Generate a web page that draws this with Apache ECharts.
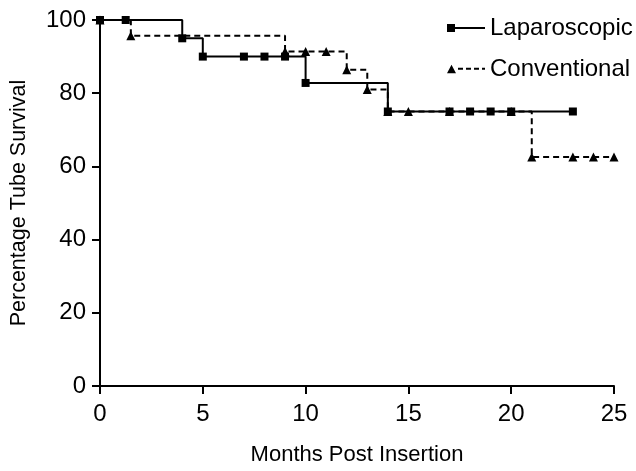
<!DOCTYPE html>
<html>
<head>
<meta charset="utf-8">
<script src="https://cdn.jsdelivr.net/npm/echarts@6/dist/echarts.min.js"></script>
<style>html,body{margin:0;padding:0;background:#fff;}#c{width:636px;height:471px;}</style>
</head>
<body>
<div id="c"></div>
<script>
// Laparoscopic: [month, percentage]
const lapMonths = [0, 1.25, 4, 5, 7, 8, 9, 10, 14, 17, 18, 19, 20, 23];
const lapValues = [100, 100, 95, 90, 90, 90, 90, 82.8, 75, 75, 75, 75, 75, 75];
// Conventional
const convMonths = [0, 1.5, 9, 10, 11, 12, 13, 14, 15, 17, 20, 21, 23, 24, 25];
const convValues = [100, 95.7, 91.4, 91.4, 91.4, 86.4, 81, 75, 75, 75, 75, 62.6, 62.6, 62.6, 62.6];
const xTicks = [0, 5, 10, 15, 20, 25];
const yTicks = [0, 20, 40, 60, 80, 100];

const font = '"Liberation Sans", Arial, sans-serif';
const lap = lapMonths.map((m, i) => [m, lapValues[i]]);
const conv = convMonths.map((m, i) => [m, convValues[i]]);

// legend icons: marker at the left end, then the line
const lapIcon = 'path://M0 0.5h8v8h-8zM8 3.5h30v2h-30z';
const convIcon = 'path://M0 9L4.5 0.5L9 9zM11 3.5h5v2h-5zM19 3.5h5v2h-5zM27 3.5h5v2h-5zM35 3.5h3v2h-3z';

const chart = echarts.init(document.getElementById('c'), null, {renderer: 'canvas'});
chart.setOption({
  animation: false,
  backgroundColor: '#fff',
  grid: {left: 98, right: 22, top: 20, bottom: 81, containLabel: false},
  legend: {
    orient: 'vertical',
    left: 442,
    top: 11,
    itemWidth: 38,
    itemHeight: 9,
    itemGap: 17,
    textStyle: {fontFamily: font, fontSize: 24, color: '#000'},
    data: [
      {name: 'Laparoscopic', icon: lapIcon},
      {name: 'Conventional', icon: convIcon}
    ]
  },
  xAxis: {
    type: 'value',
    min: xTicks[0],
    max: xTicks[xTicks.length - 1],
    interval: 5,
    name: 'Months Post Insertion',
    nameLocation: 'middle',
    nameGap: 58,
    nameTextStyle: {fontFamily: font, fontSize: 22, color: '#000'},
    axisLine: {lineStyle: {color: '#000', width: 2}},
    axisTick: {show: true, length: 8, lineStyle: {color: '#000', width: 2}},
    axisLabel: {fontFamily: font, fontSize: 24, color: '#000', margin: 16},
    splitLine: {show: false}
  },
  yAxis: {
    type: 'value',
    min: yTicks[0],
    max: yTicks[yTicks.length - 1],
    interval: 20,
    name: 'Percentage Tube Survival',
    nameLocation: 'middle',
    nameGap: 70,
    nameTextStyle: {fontFamily: font, fontSize: 21.5, color: '#000'},
    axisLine: {show: true, lineStyle: {color: '#000', width: 2}},
    axisTick: {show: true, length: 8, lineStyle: {color: '#000', width: 2}},
    axisLabel: {fontFamily: font, fontSize: 24, color: '#000', margin: 14},
    splitLine: {show: false}
  },
  series: [
    {
      name: 'Laparoscopic',
      type: 'line',
      step: 'end',
      data: lap,
      symbol: 'rect',
      symbolSize: 8,
      showAllSymbol: true,
      itemStyle: {color: '#000'},
      lineStyle: {color: '#000', width: 2, type: 'solid'},
      z: 3
    },
    {
      name: 'Conventional',
      type: 'line',
      step: 'end',
      data: conv,
      symbol: 'triangle',
      symbolSize: 9,
      showAllSymbol: true,
      itemStyle: {color: '#000'},
      lineStyle: {color: '#000', width: 2, type: [6, 4]},
      z: 2
    }
  ]
});
</script>
</body>
</html>
